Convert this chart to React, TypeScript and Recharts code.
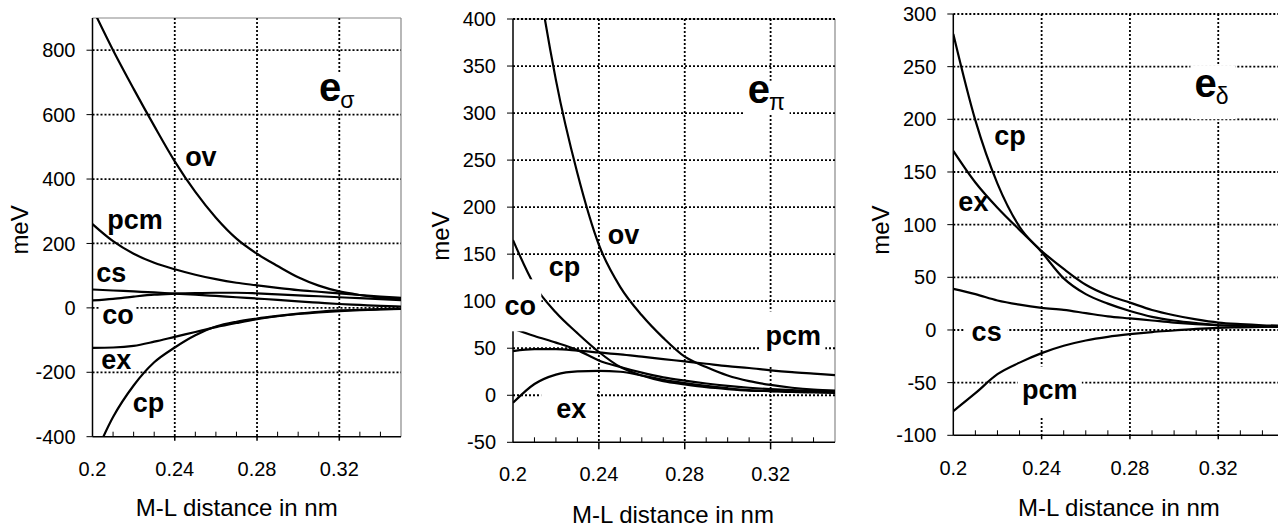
import React from "react";
import { LineChart, Line, XAxis, YAxis, CartesianGrid, ReferenceDot } from "recharts";

const FONT = "'Liberation Sans', Arial, Helvetica, sans-serif";

// M-L distance (nm), one point every 0.01
const DIST = [0.2, 0.21, 0.22, 0.23, 0.24, 0.25, 0.26, 0.27, 0.28, 0.29, 0.3, 0.31, 0.32, 0.33, 0.34, 0.35];
const X_TICKS = [0.2, 0.21, 0.22, 0.23, 0.24, 0.25, 0.26, 0.27, 0.28, 0.29, 0.3, 0.31, 0.32, 0.33, 0.34, 0.35];
const X_LABELS = [0.2, 0.24, 0.28, 0.32];
const X_GRID = [0.24, 0.28, 0.32];

// e-sigma (meV)
const SIG_TICKS = [-400, -200, 0, 200, 400, 600, 800];
const SIG_OV = [930, 800, 680, 565, 455, 360, 280, 215, 168, 130, 95, 69, 51, 40, 32, 27];
const SIG_PCM = [260, 207, 168, 140, 120, 103, 89, 78, 70, 62, 55, 50, 45, 40, 35, 31];
const SIG_CS = [57, 54, 51, 48, 44, 41, 37, 33, 29, 25, 20, 16, 12, 9, 6, 4];
const SIG_CO = [23, 28, 35, 41, 44, 46, 47, 47, 45, 42, 39, 36, 33, 30, 27, 24];
const SIG_EX = [-124, -123, -118, -105, -90, -75, -60, -47, -35, -26, -19, -14, -10, -7, -5, -3];
const SIG_CP = [-475, -339, -241, -169, -123, -85, -58, -43, -33, -25, -18, -12, -8, -6, -4, -3];

// e-pi (meV)
const PI_TICKS = [-50, 0, 50, 100, 150, 200, 250, 300, 350, 400];
const PI_OV = [670, 472, 335, 236, 160, 115, 85, 61, 41, 30, 21, 15, 11, 8, 6, 5];
const PI_CP = [165, 117, 88, 66, 46, 30, 21, 15, 11.5, 8.5, 6.5, 5, 4.5, 4, 3.5, 3];
const PI_CO = [71, 63, 56, 48, 37, 30, 24, 19, 15.5, 12.5, 10, 8, 6.5, 5.5, 5, 4.5];
const PI_PCM = [47, 49, 49, 47.5, 45.5, 43.5, 41, 38.5, 36, 33.5, 31, 29, 26.5, 24.5, 23, 21.5];
const PI_EX = [-8, 12, 22, 25.5, 26, 25, 21, 16.5, 13, 10, 7.5, 5.5, 4.5, 3.5, 3, 2.5];

// e-delta (meV)
const DEL_TICKS = [-100, -50, 0, 50, 100, 150, 200, 250, 300];
const DEL_CP = [281, 199, 139, 98, 74, 49, 34, 25, 18, 12.5, 9, 6.5, 4.5, 4, 3.5, 3];
const DEL_EX = [170, 140, 116, 95, 75, 58, 43, 33, 26, 19, 14, 10, 7, 5.5, 4.5, 4];
const DEL_CS = [39, 34, 28, 24, 21, 19, 16, 13, 11, 9, 7, 5.5, 4.5, 4, 3.5, 3];
const DEL_PCM = [-77, -60, -42, -31, -22, -15, -10, -6.5, -4, -2, -0.5, 1, 2, 2.5, 3, 3.5];

const sigmaRows = DIST.map((x, i) => ({ x, ov: SIG_OV[i], pcm: SIG_PCM[i], cs: SIG_CS[i], co: SIG_CO[i], ex: SIG_EX[i], cp: SIG_CP[i] }));
const piRows = DIST.map((x, i) => ({ x, ov: PI_OV[i], cp: PI_CP[i], co: PI_CO[i], pcm: PI_PCM[i], ex: PI_EX[i] }));
const deltaRows = DIST.map((x, i) => ({ x, cp: DEL_CP[i], ex: DEL_EX[i], cs: DEL_CS[i], pcm: DEL_PCM[i] }));

// curve names, placed in data coords; box = white backing [left, top, right, bottom] around anchor
const SIG_TAGS = [
  { text: "ov", x: 0.2527, y: 442 },
  { text: "pcm", x: 0.2207, y: 245 },
  { text: "cs", x: 0.2091, y: 79 },
  { text: "co", x: 0.2124, y: -49, box: [-18, -20, 18, 5] },
  { text: "ex", x: 0.2116, y: -189 },
  { text: "cp", x: 0.2272, y: -322 },
  { text: "e", sub: "σ", x: 0.3101, y: 641, box: [-3, -28, 41, 9] },
];
const PI_TAGS = [
  { text: "ov", x: 0.2515, y: 161 },
  { text: "cp", x: 0.224, y: 127 },
  { text: "co", x: 0.2034, y: 85, box: [-20, -36, 21, 16] },
  { text: "ex", x: 0.2271, y: -24, box: [-30, -29, 25, 6] },
  { text: "pcm", x: 0.3306, y: 53, box: [-33, -34, 32, 21] },
  { text: "e", sub: "π", x: 0.3093, y: 311, box: [-3, -22, 42, 12] },
];
const DEL_TAGS = [
  { text: "cp", x: 0.2257, y: 175.6 },
  { text: "ex", x: 0.2091, y: 113 },
  { text: "cs", x: 0.2151, y: -10.5, box: [-22, -24, 21, 6] },
  { text: "pcm", x: 0.2437, y: -66, box: [-32, -33, 32, 17] },
  { text: "e", sub: "δ", x: 0.3092, y: 221, box: [-4, -32, 41, 22] },
];

function CurveTag({ cx, cy, tag }: any) {
  if (cx == null || cy == null) return null;
  const b = tag.box;
  return (
    <g>
      {b && <rect x={cx + b[0]} y={cy + b[1]} width={b[2] - b[0]} height={b[3] - b[1]} fill="#fff" />}
      {tag.sub ? (
        <text x={cx} y={cy} fontFamily={FONT} fill="#000">
          <tspan fontSize={40} fontWeight="bold">e</tspan>
          <tspan fontSize={23} dx={-1} dy={7}>{tag.sub}</tspan>
        </text>
      ) : (
        <text x={cx} y={cy} textAnchor="middle" fontFamily={FONT} fontSize={27} fontWeight="bold" fill="#000">
          {tag.text}
        </text>
      )}
    </g>
  );
}

function DistTick({ x, y, payload, drop, labelGap }: any) {
  const v = payload.value;
  const labelled = X_LABELS.includes(v);
  const major = X_GRID.includes(v);
  const edge = v === 0.2 || v === 0.35;
  return (
    <g>
      {!major && !edge && <line x1={x} x2={x} y1={y} y2={y - 5} stroke="#000" strokeWidth={1} />}
      {major && <line x1={x} x2={x} y1={y} y2={y + drop} stroke="#000" strokeWidth={1.5} />}
      {labelled && (
        <text x={x} y={y + labelGap} textAnchor="middle" fontFamily={FONT} fontSize={20} fill="#000">
          {String(v)}
        </text>
      )}
    </g>
  );
}

function XTitle({ viewBox, dx, dy }: any) {
  if (!viewBox) return null;
  return (
    <text x={viewBox.x + viewBox.width / 2 + dx} y={viewBox.y + dy} textAnchor="middle" fontFamily={FONT} fontSize={24} fill="#000">
      M-L distance in nm
    </text>
  );
}

function YTitle({ viewBox, cx, dy }: any) {
  if (!viewBox) return null;
  const y = viewBox.y + viewBox.height / 2 + dy;
  return (
    <text
      x={cx}
      y={y}
      transform={`rotate(-90 ${cx} ${y})`}
      textAnchor="middle"
      dominantBaseline="central"
      fontFamily={FONT}
      fontSize={24}
      fill="#000"
    >
      meV
    </text>
  );
}

function Panel(props: any) {
  const { left, width, top, right, xAxisH, yAxisW, domain, yTicks, rows, keys, tags, titleDx, titleDy, meVx, meVdy, border, drop, labelGap } = props;
  const gridY = yTicks.filter((v: number) => v !== domain[0]);
  return (
    <div style={{ position: "absolute", left, top: 0 }}>
      <LineChart width={width} height={529} data={rows} margin={{ top, right, bottom: 0, left: 0 }}>
        {border && (
          <CartesianGrid stroke="#888" strokeWidth={1.2} horizontalValues={[domain[1]]} verticalValues={[0.35]} />
        )}
        <CartesianGrid stroke="#000" strokeWidth={1.8} strokeDasharray="2 2" horizontalValues={gridY} verticalValues={X_GRID} />
        <XAxis
          dataKey="x"
          type="number"
          domain={[0.2, 0.35]}
          ticks={X_TICKS}
          interval={0}
          allowDataOverflow
          height={xAxisH}
          tickSize={0}
          tickMargin={0}
          tickLine={false}
          axisLine={{ stroke: "#000", strokeWidth: 1.5 }}
          tick={<DistTick drop={drop} labelGap={labelGap} />}
          label={<XTitle dx={titleDx} dy={titleDy} />}
        />
        <YAxis
          type="number"
          domain={domain}
          ticks={yTicks}
          interval={0}
          allowDataOverflow
          width={yAxisW}
          tickSize={6}
          tickMargin={11}
          tickLine={{ stroke: "#000", strokeWidth: 1 }}
          axisLine={{ stroke: "#000", strokeWidth: 1.5 }}
          tick={{ fill: "#000", fontSize: 20, fontFamily: FONT }}
          label={<YTitle cx={meVx} dy={meVdy} />}
        />
        {keys.map((k: string) => (
          <Line key={k} dataKey={k} type="monotone" stroke="#000" strokeWidth={2.2} dot={false} isAnimationActive={false} />
        ))}
        {tags.map((t: any) => (
          <ReferenceDot
            key={t.text + (t.sub || "")}
            x={t.x}
            y={t.y}
            r={0}
            zIndex={2000}
            shape={(p: any) => <CurveTag cx={p.cx} cy={p.cy} tag={t} />}
          />
        ))}
      </LineChart>
    </div>
  );
}

export default function App() {
  return (
    <div style={{ position: "absolute", left: 0, top: 0, width: 1278, height: 529, overflow: "hidden", background: "#fff" }}>
      <Panel
        left={0}
        width={420}
        top={18}
        right={19}
        xAxisH={92.3}
        yAxisW={92.5}
        domain={[-400, 900]}
        yTicks={SIG_TICKS}
        rows={sigmaRows}
        keys={["ov", "pcm", "cs", "co", "ex", "cp"]}
        tags={SIG_TAGS}
        titleDx={-10}
        titleDy={79.3}
        meVx={20}
        meVdy={2.6}
        border
        drop={4}
        labelGap={39.3}
      />
      <Panel
        left={420}
        width={430}
        top={19}
        right={15}
        xAxisH={86.7}
        yAxisW={93}
        domain={[-50, 400]}
        yTicks={PI_TICKS}
        rows={piRows}
        keys={["ov", "cp", "co", "pcm", "ex"]}
        tags={PI_TAGS}
        titleDx={-1}
        titleDy={80.7}
        meVx={21}
        meVdy={5.4}
        border
        drop={7}
        labelGap={38.7}
      />
      <Panel
        left={850}
        width={440}
        top={14}
        right={5.5}
        xAxisH={93.7}
        yAxisW={103.3}
        domain={[-100, 300]}
        yTicks={DEL_TICKS}
        rows={deltaRows}
        keys={["cp", "ex", "cs", "pcm"]}
        tags={DEL_TAGS}
        titleDx={0}
        titleDy={80.7}
        meVx={30.5}
        meVdy={5.4}
        border={false}
        drop={4}
        labelGap={40}
      />
    </div>
  );
}
